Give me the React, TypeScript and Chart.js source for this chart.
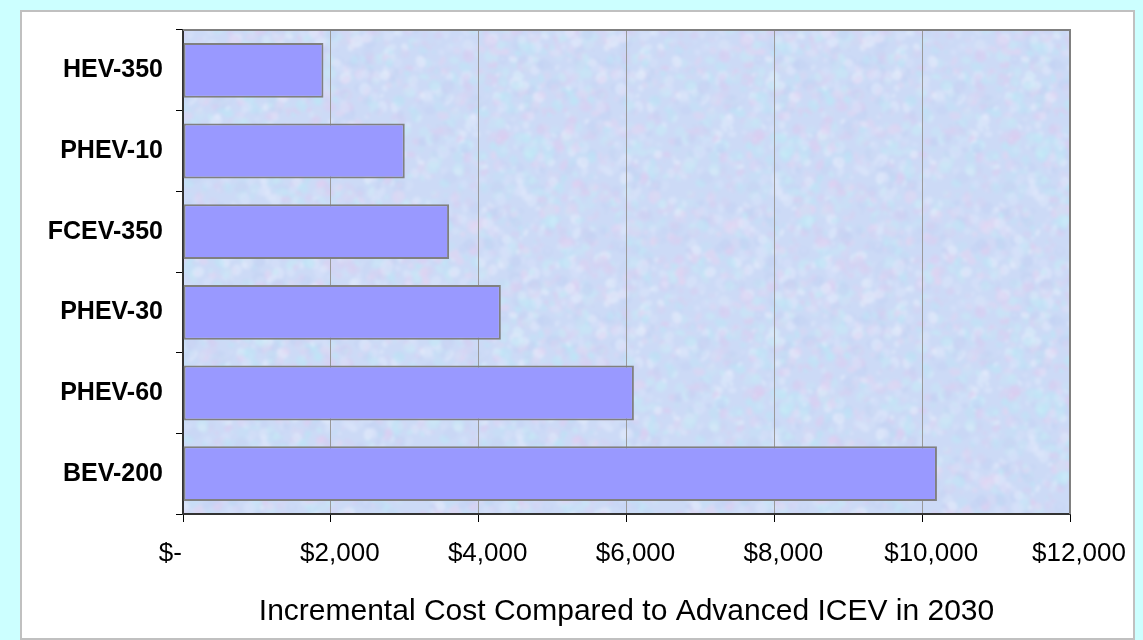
import React, { useEffect, useRef } from "react";
import { Chart, registerables } from "chart.js";

Chart.register(...registerables);

const categories = ["HEV-350", "PHEV-10", "FCEV-350", "PHEV-30", "PHEV-60", "BEV-200"];
const costValues = [1900, 3000, 3600, 4300, 6100, 10200];
const xTickLabels = ["$-", "$2,000", "$4,000", "$6,000", "$8,000", "$10,000", "$12,000"];
const axisTitle = "Incremental Cost Compared to Advanced ICEV in 2030";

function makeTexture(): HTMLCanvasElement {
  const size = 256;
  const raw = document.createElement("canvas");
  raw.width = size;
  raw.height = size;
  const c = raw.getContext("2d")!;
  c.fillStyle = "#CCDAF6";
  c.fillRect(0, 0, size, size);
  let s = 24681;
  const rnd = () => {
    s = (s * 1103515245 + 12345) & 0x7fffffff;
    return s / 0x7fffffff;
  };
  const colors = ["#BCE6F6", "#DCCCF0", "#D9E3FA", "#C3D2F3", "#C6EAF6", "#E2D4F2", "#E6EEFC"];
  for (let i = 0; i < 1400; i++) {
    const x = rnd() * size;
    const y = rnd() * size;
    const r = 1.5 + rnd() * 5;
    const rr = r * (0.5 + rnd() * 0.8);
    const rot = rnd() * 3;
    c.globalAlpha = 0.25 + rnd() * 0.35;
    c.fillStyle = colors[Math.floor(rnd() * colors.length)];
    for (const dx of [-size, 0, size]) {
      for (const dy of [-size, 0, size]) {
        c.beginPath();
        c.ellipse(x + dx, y + dy, r, rr, rot, 0, Math.PI * 2);
        c.fill();
      }
    }
  }
  c.globalAlpha = 1;
  const big = document.createElement("canvas");
  big.width = size * 3;
  big.height = size * 3;
  const b = big.getContext("2d")!;
  for (let ix = 0; ix < 3; ix++) {
    for (let iy = 0; iy < 3; iy++) {
      b.drawImage(raw, ix * size, iy * size);
    }
  }
  const blurred = document.createElement("canvas");
  blurred.width = size * 3;
  blurred.height = size * 3;
  const bl = blurred.getContext("2d")!;
  bl.filter = "blur(1.5px)";
  bl.drawImage(big, 0, 0);
  const out = document.createElement("canvas");
  out.width = size;
  out.height = size;
  const o = out.getContext("2d")!;
  o.drawImage(blurred, size, size, size, size, 0, 0, size, size);
  return out;
}

const backgroundPlugin = {
  id: "plotBackground",
  beforeDraw(chart: any) {
    const { ctx, chartArea } = chart;
    if (!chartArea) return;
    const tex = makeTexture();
    const pattern = ctx.createPattern(tex, "repeat");
    ctx.save();
    ctx.fillStyle = pattern || "#CCDAF6";
    ctx.fillRect(chartArea.left, chartArea.top, chartArea.right - chartArea.left, chartArea.bottom - chartArea.top);
    ctx.restore();
  },
  afterDraw(chart: any) {
    const { ctx, chartArea } = chart;
    ctx.save();
    ctx.strokeStyle = "#808080";
    ctx.lineWidth = 2;
    ctx.beginPath();
    ctx.moveTo(chartArea.left, chartArea.top);
    ctx.lineTo(chartArea.right, chartArea.top);
    ctx.lineTo(chartArea.right, chartArea.bottom);
    ctx.stroke();
    ctx.restore();
  },
};

export default function App() {
  const canvasRef = useRef<HTMLCanvasElement | null>(null);

  useEffect(() => {
    const canvas = canvasRef.current;
    if (!canvas) return;
    const chart = new Chart(canvas, {
      type: "bar",
      data: {
        labels: categories,
        datasets: [
          {
            data: costValues,
            backgroundColor: "#9999FF",
            borderColor: "#808080",
            borderWidth: 2,
            borderSkipped: false,
            barPercentage: 0.68,
            categoryPercentage: 1,
          },
        ],
      },
      options: {
        indexAxis: "y",
        animation: false,
        responsive: false,
        maintainAspectRatio: false,
        events: [],
        layout: { padding: { top: 30, right: 73, left: 0, bottom: 0 } },
        plugins: {
          legend: { display: false },
          tooltip: { enabled: false },
        },
        scales: {
          x: {
            min: 0,
            max: 12000,
            afterFit: (scale: any) => {
              scale.height = 126;
            },
            ticks: {
              stepSize: 2000,
              color: "#000000",
              font: { family: "'Liberation Sans', Arial, sans-serif", size: 26 },
              padding: 16,
              labelOffset: 9,
              maxRotation: 0,
              autoSkip: false,
              callback: (_v: any, i: number) =>
                i === 0 ? xTickLabels[i] + "\u2007\u2007\u2007" : xTickLabels[i],
            },
            grid: {
              color: "#999999",
              lineWidth: 1,
              drawTicks: true,
              tickLength: 8,
              tickColor: "#000000",
            },
            border: { color: "#333333", width: 2 },
            title: {
              display: true,
              text: axisTitle,
              color: "#000000",
              font: { family: "'Liberation Sans', Arial, sans-serif", size: 30 },
              padding: { top: 0, bottom: 10 },
            },
          },
          y: {
            afterFit: (scale: any) => {
              scale.width = 183;
            },
            ticks: {
              color: "#000000",
              font: { family: "'Liberation Sans', Arial, sans-serif", size: 25, weight: "bold" },
              padding: 13,
            },
            grid: {
              offset: true,
              drawOnChartArea: false,
              drawTicks: true,
              tickLength: 7,
              tickColor: "#000000",
            },
            border: { color: "#333333", width: 2 },
          },
        },
      },
      plugins: [backgroundPlugin],
    });
    return () => chart.destroy();
  }, []);

  return (
    <div
      style={{
        position: "fixed",
        left: 0,
        top: 0,
        width: 1143,
        height: 640,
        background: "#CCFFFF",
        overflow: "hidden",
      }}
    >
      <div
        style={{
          position: "absolute",
          left: 20,
          top: 10,
          width: 1115,
          height: 630,
          boxSizing: "border-box",
          border: "2px solid #C0C0C0",
          background: "#FFFFFF",
        }}
      />
      <canvas
        ref={canvasRef}
        width={1143}
        height={640}
        style={{ position: "absolute", left: 0, top: 0, width: 1143, height: 640 }}
      />
    </div>
  );
}
